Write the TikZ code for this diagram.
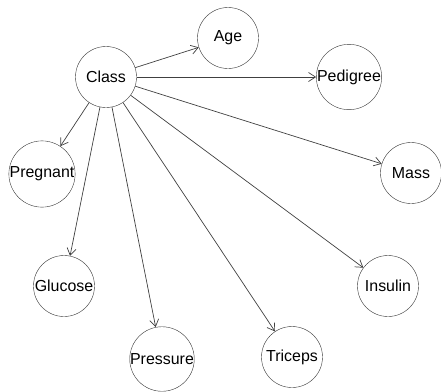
\documentclass[tikz,border=0pt]{standalone}
\usepackage{fontspec}
\setmainfont{Liberation Sans}
\usetikzlibrary{arrows.meta}
\tikzset{varnode/.style={draw=black!80, circle, minimum size=61bp, inner sep=0pt,
    font=\fontsize{16}{16}\selectfont},
  depArrow/.style={draw=black!75, line width=0.7pt,
    -{Straight Barb[length=7bp, width=9bp]}}}
\begin{document}
\begin{tikzpicture}[x=1bp, y=-1bp]
\useasboundingbox (0,0) rectangle (441,391);
\node[varnode] (class) at (106,77) {Class};
\node[varnode] (age) at (228,38) {Age};
\node[varnode] (pedigree) at (349,77) {Pedigree};
\node[varnode] (pregnant) at (42,174) {Pregnant};
\node[varnode] (mass) at (411,173) {Mass};
\node[varnode] (glucose) at (64,286) {Glucose};
\node[varnode] (insulin) at (388,286) {Insulin};
\node[varnode] (pressure) at (162,359) {Pressure};
\node[varnode] (triceps) at (292,357) {Triceps};

\draw[depArrow] (class) -- (age);
\draw[depArrow] (class) -- (pedigree);
\draw[depArrow] (class) -- (pregnant);
\draw[depArrow] (class) -- (mass);
\draw[depArrow] (class) -- (glucose);
\draw[depArrow] (class) -- (insulin);
\draw[depArrow] (class) -- (pressure);
\draw[depArrow] (class) -- (triceps);
\end{tikzpicture}
\end{document}
